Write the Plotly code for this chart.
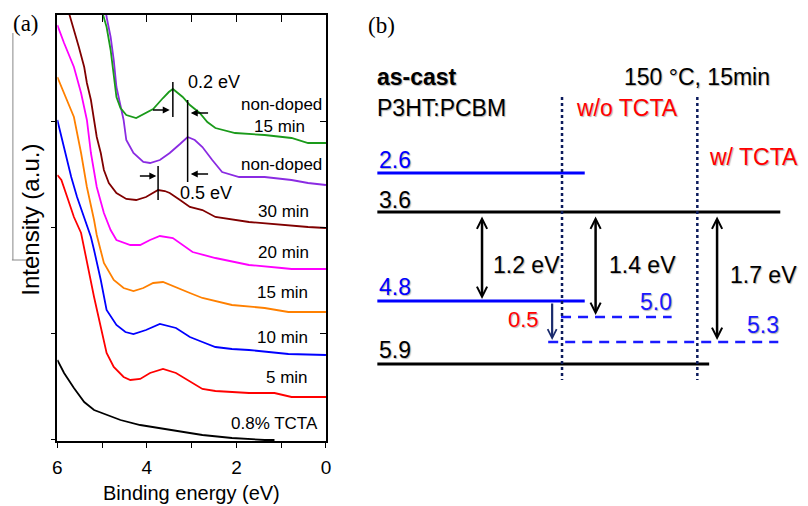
import plotly.graph_objects as go

W, H = 808, 506
FONT = "Liberation Sans, Arial, sans-serif"
SERIF = "Liberation Serif, Times New Roman, serif"

# ---------------- Panel (a): UPS spectra (binding energy eV, intensity a.u.) ----------------
e_green = [5.01, 4.96, 4.90, 4.81, 4.74, 4.68, 4.59, 4.46, 4.24, 4.02, 3.86, 3.64, 3.51, 3.42, 3.30, 3.20, 3.04, 2.82, 2.65, 2.47, 2.03, 1.37, 0.77, 0.40, 0.00]
i_green = [431, 424, 414, 391, 364, 344, 333, 326, 323, 328, 332, 343, 349, 352, 348, 344, 336, 328, 319, 313, 308, 306, 303, 298, 298]

e_purple = [4.92, 4.90, 4.81, 4.74, 4.68, 4.59, 4.52, 4.46, 4.30, 4.08, 3.93, 3.71, 3.49, 3.26, 3.09, 2.93, 2.76, 2.54, 2.32, 1.94, 1.37, 0.77, 0.40, 0.00]
i_purple = [431, 424, 404, 381, 354, 334, 321, 301, 288, 279, 278, 281, 288, 297, 304, 301, 294, 281, 269, 264, 264, 261, 258, 256]

e_brown = [5.76, 5.71, 5.63, 5.52, 5.40, 5.34, 5.25, 5.18, 5.12, 5.03, 4.96, 4.85, 4.68, 4.46, 4.24, 4.02, 3.86, 3.75, 3.60, 3.49, 3.26, 3.04, 2.76, 2.47, 1.72, 0.99, 0.40, 0.00]
i_brown = [431, 424, 411, 394, 374, 358, 341, 321, 304, 288, 271, 258, 248, 242, 241, 244, 248, 251, 250, 248, 241, 234, 231, 224, 219, 216, 214, 213]

e_magenta = [6.00, 5.85, 5.63, 5.47, 5.34, 5.25, 5.12, 4.96, 4.81, 4.68, 4.37, 4.15, 3.93, 3.71, 3.42, 3.04, 2.98, 2.47, 1.72, 0.99, 0.77, 0.00]
i_magenta = [416, 398, 374, 348, 321, 288, 254, 228, 211, 201, 196, 196, 201, 205, 203, 191, 189, 183, 176, 173, 172, 172]

e_orange = [6.00, 5.85, 5.63, 5.47, 5.34, 5.18, 5.12, 4.96, 4.74, 4.52, 4.30, 4.08, 3.86, 3.64, 3.35, 3.04, 2.76, 2.10, 1.37, 0.84, 0.00]
i_orange = [364, 348, 324, 288, 254, 221, 206, 178, 161, 153, 150, 153, 158, 159, 154, 148, 143, 136, 133, 129, 129]

e_blue = [6.00, 5.85, 5.69, 5.56, 5.40, 5.25, 5.18, 5.03, 4.90, 4.68, 4.48, 4.30, 4.02, 3.71, 3.35, 3.04, 2.76, 2.47, 2.10, 1.72, 0.84, 0.00]
i_blue = [321, 294, 264, 244, 224, 204, 191, 161, 131, 116, 109, 107, 111, 117, 113, 104, 99, 94, 92, 91, 87, 86]

e_red = [6.00, 5.91, 5.78, 5.63, 5.47, 5.34, 5.18, 5.03, 4.96, 4.90, 4.74, 4.52, 4.37, 4.15, 3.93, 3.64, 3.35, 3.02, 2.76, 2.47, 1.72, 1.15, 0.77, 0.00]
i_red = [266, 261, 244, 224, 208, 178, 144, 114, 101, 88, 74, 64, 61, 62, 68, 72, 68, 59, 52, 50, 48, 48, 44, 44]

e_black = [6.00, 5.85, 5.63, 5.40, 5.18, 4.90, 4.59, 4.15, 3.64, 3.04, 2.76, 2.10, 1.37, 1.15]
i_black = [81, 68, 53, 39, 31, 26, 21, 16, 12, 8, 6, 3, 1, 1]

curve_labels = ["non-doped\n15 min", "non-doped", "30 min", "20 min", "15 min", "10 min", "5 min", "0.8% TCTA"]
x_ticks = [6, 5, 4, 3, 2, 1, 0]
x_ticktext = ["6", "", "4", "", "2", "", "0"]
y_ticks = [2, 108, 214, 320]

peak_green, peak_purple, peak_brown = 3.42, 3.09, 3.75
shift_labels = ["0.2 eV", "0.5 eV"]

# ---------------- Panel (b): energy level diagram ----------------
level_values = [2.6, 3.6, 4.8, 5.9, 5.0, 5.3]
level_colors = ["#0000ff", "#000000", "#0000ff", "#000000", "#1a1aff", "#1a1aff"]
gap_labels = ["1.2 eV", "1.4 eV", "1.7 eV"]
shift_b_label = "0.5"

# schematic (not to scale) placement of the diagram, in diagram units
lvl_y = [173, 212, 301, 364, 317, 342]
lvl_x0 = [377, 377, 377, 377, 563, 550]
lvl_x1 = [587, 785, 587, 713, 675, 783]
lvl_dash = ["solid", "solid", "solid", "solid", "10px,7px", "10px,7px"]
lab_pos = [(377, 160, "left"), (377, 200, "left"), (377, 287, "left"), (377, 350, "left"),
           (659, 302, "center"), (768, 325, "center")]
gap_x = [483, 598, 721]
gap_bottom = [2, 4, 5]
gap_lab_pos = [(528, 265), (645, 265), (768, 275)]
div_x = [564, 701]


def px(x):
    return x / W


def py(y):
    return 1 - y / H


fig = go.Figure()

series = [
    (e_black, i_black, "#000000"),
    (e_red, i_red, "#ff0000"),
    (e_blue, i_blue, "#0000ff"),
    (e_orange, i_orange, "#ff8000"),
    (e_magenta, i_magenta, "#ff00ff"),
    (e_brown, i_brown, "#800000"),
    (e_purple, i_purple, "#8a2be2"),
    (e_green, i_green, "#1a9a1a"),
]
for e, i, c in series:
    fig.add_trace(go.Scatter(x=e, y=i, mode="lines", xaxis="x", yaxis="y",
                             line=dict(color=c, width=1.8),
                             showlegend=False, hoverinfo="skip"))

# peak markers
for pk, lo, hi in [(peak_green, 324, 359), (peak_purple, 259, 341), (peak_brown, 241, 275)]:
    fig.add_trace(go.Scatter(x=[pk, pk], y=[lo, hi], mode="lines", xaxis="x", yaxis="y",
                             line=dict(color="black", width=1.5), showlegend=False, hoverinfo="skip"))

# dummy trace for mirrored inside ticks (top / right)
fig.add_trace(go.Scatter(x=[None], y=[None], xaxis="x3", yaxis="y3", showlegend=False, hoverinfo="skip"))

# panel (b) levels
for k in range(len(level_values)):
    fig.add_trace(go.Scatter(x=[lvl_x0[k], lvl_x1[k]], y=[lvl_y[k], lvl_y[k]], mode="lines",
                             xaxis="x2", yaxis="y2",
                             line=dict(color=level_colors[k], width=3 if k < 4 else 2.5, dash=lvl_dash[k]),
                             showlegend=False, hoverinfo="skip"))
for dx in div_x:
    fig.add_trace(go.Scatter(x=[dx, dx], y=[97, 380], mode="lines", xaxis="x2", yaxis="y2",
                             line=dict(color="#0b1a5c", width=2.5, dash="dot"),
                             showlegend=False, hoverinfo="skip"))

ann = []
# panel (a) labels
lab_a = [(0.99, 337), (1.04, 315), (0.99, 277), (0.95, 230), (0.95, 189), (0.97, 149), (0.97, 104), (0.86, 64), (1.15, 18)]
texts_a = curve_labels[0].split("\n") + curve_labels[1:]
for (xe, yi), t in zip(lab_a, texts_a):
    ann.append(dict(x=xe, y=yi, xref="x", yref="y", text=t, showarrow=False,
                    font=dict(family=FONT, size=17, color="black"), xanchor="center", yanchor="middle"))
ann.append(dict(x=2.49, y=359, xref="x", yref="y", text=shift_labels[0], showarrow=False,
                yanchor="middle", font=dict(family=FONT, size=18, color="black")))
ann.append(dict(x=2.69, y=248, xref="x", yref="y", text=shift_labels[1], showarrow=False,
                yanchor="middle", font=dict(family=FONT, size=18, color="black")))
for tipx, tailx, yy in [(3.49, 3.90, 331), (3.02, 2.60, 328), (3.79, 4.19, 265), (3.02, 2.60, 267)]:
    ann.append(dict(x=tipx, y=yy, ax=tailx, ay=yy, xref="x", yref="y", axref="x", ayref="y",
                    showarrow=True, arrowhead=2, arrowsize=1, arrowwidth=1.4, arrowcolor="black",
                    text="", standoff=0))

# axis titles / panel tags
ann.append(dict(x=px(189), y=py(493), xref="paper", yref="paper", text="Binding energy (eV)",
                xanchor="center", yanchor="middle",
                showarrow=False, font=dict(family=FONT, size=20, color="black")))
ann.append(dict(x=px(26), y=py(220), xref="paper", yref="paper", text="Intensity (a.u.)", textangle=-90,
                xanchor="center", yanchor="middle",
                showarrow=False, font=dict(family=FONT, size=24, color="black")))
ann.append(dict(x=px(21), y=py(24), xref="paper", yref="paper", text="(a)", showarrow=False,
                xanchor="center", yanchor="middle",
                font=dict(family=SERIF, size=23, color="black")))
ann.append(dict(x=px(381), y=py(25), xref="paper", yref="paper", text="(b)", showarrow=False,
                xanchor="center", yanchor="middle",
                font=dict(family=SERIF, size=23, color="black")))

SH = "1px 1px 1px rgba(0,0,0,0.3)"
# panel (b) text
for k, (lx, ly, anc) in enumerate(lab_pos):
    ann.append(dict(x=lx, y=ly, xref="x2", yref="y2", text=f"{level_values[k]:.1f}", showarrow=False,
                    xanchor=anc, yanchor="middle",
                    font=dict(family=FONT, size=23, color=level_colors[k], shadow=SH)))
for (gx, gy), t in zip(gap_lab_pos, gap_labels):
    ann.append(dict(x=gx, y=gy, xref="x2", yref="y2", text=t, showarrow=False, yanchor="middle",
                    font=dict(family=FONT, size=23, color="black", shadow=SH)))
for gx, b in zip(gap_x, gap_bottom):
    ann.append(dict(x=gx, y=lvl_y[b] - 2, ax=gx, ay=lvl_y[1] + 3, xref="x2", yref="y2", axref="x2", ayref="y2",
                    showarrow=True, arrowhead=5, startarrowhead=5, arrowside="end+start",
                    arrowsize=0.8, startarrowsize=0.8, arrowwidth=2.5, arrowcolor="black", text="",
                    standoff=0, startstandoff=0))
ann.append(dict(x=554, y=lvl_y[5] - 2, ax=554, ay=lvl_y[2] + 1, xref="x2", yref="y2", axref="x2", ayref="y2",
                showarrow=True, arrowhead=5, arrowsize=0.8, arrowwidth=2.2, arrowcolor="#1a2b6d",
                text="", standoff=0))
ann.append(dict(x=525, y=319, xref="x2", yref="y2", text=shift_b_label, showarrow=False, yanchor="middle",
                font=dict(family=FONT, size=22, color="#ff0000", shadow=SH)))
ann.append(dict(x=375, y=77, xref="x2", yref="y2", text="<b>as-cast</b>", showarrow=False, xanchor="left",
                yanchor="middle", font=dict(family=FONT, size=23, color="black", shadow=SH)))
ann.append(dict(x=375, y=108, xref="x2", yref="y2", text="P3HT:PCBM", showarrow=False, xanchor="left",
                yanchor="middle", font=dict(family=FONT, size=23, color="black", shadow=SH)))
ann.append(dict(x=701, y=77, xref="x2", yref="y2", text="150 °C, 15min", showarrow=False, yanchor="middle",
                font=dict(family=FONT, size=23, color="black", shadow=SH)))
ann.append(dict(x=630, y=108, xref="x2", yref="y2", text="w/o TCTA", showarrow=False, yanchor="middle",
                font=dict(family=FONT, size=23, color="#ff0000", shadow=SH)))
ann.append(dict(x=711, y=157, xref="x2", yref="y2", text="w/ TCTA", showarrow=False, xanchor="left",
                yanchor="middle", font=dict(family=FONT, size=23, color="#ff0000", shadow=SH)))

shapes = [
    dict(type="line", xref="paper", yref="paper", x0=px(8), x1=px(8), y0=py(33), y1=py(260),
         line=dict(color="#888888", width=1)),
    dict(type="line", xref="paper", yref="paper", x0=px(7), x1=px(25), y0=py(260), y1=py(260),
         line=dict(color="#888888", width=1)),
]

fig.update_layout(
    width=W, height=H, margin=dict(l=0, r=0, t=0, b=0),
    paper_bgcolor="white", plot_bgcolor="rgba(0,0,0,0)",
    showlegend=False, annotations=ann, shapes=shapes,
    xaxis=dict(domain=[px(53), px(325)], range=[6, 0], anchor="y", showline=True, linecolor="black",
               linewidth=1.5, mirror=True, ticks="outside", ticklen=5, tickwidth=1.3, tickcolor="black",
               tickvals=x_ticks, ticktext=x_ticktext, ticklabelstandoff=3,
               tickfont=dict(family=FONT, size=19, color="black"), showgrid=False, zeroline=False),
    yaxis=dict(domain=[py(441), py(15)], range=[0, 426], anchor="x", showline=True, linecolor="black",
               linewidth=1.5, mirror=True, ticks="outside", ticklen=5, tickwidth=1.3, tickcolor="black",
               tickvals=y_ticks, showticklabels=False, showgrid=False, zeroline=False),
    xaxis3=dict(overlaying="x", side="top", anchor="y", range=[6, 0], ticks="inside", ticklen=7,
                tickwidth=1.3, tickcolor="black", tickvals=[5, 4, 3, 2, 1], showticklabels=False,
                showline=False, showgrid=False, zeroline=False),
    yaxis3=dict(overlaying="y", side="right", anchor="x", range=[0, 426], ticks="inside", ticklen=6,
                tickwidth=1.3, tickcolor="black", tickvals=y_ticks[1:], showticklabels=False,
                showline=False, showgrid=False, zeroline=False),
    xaxis2=dict(domain=[px(360), 1], range=[360, 808], anchor="y2", visible=False, fixedrange=True),
    yaxis2=dict(domain=[0, 1], range=[506, 0], anchor="x2", visible=False, fixedrange=True),
)

fig.write_html("out.html")
